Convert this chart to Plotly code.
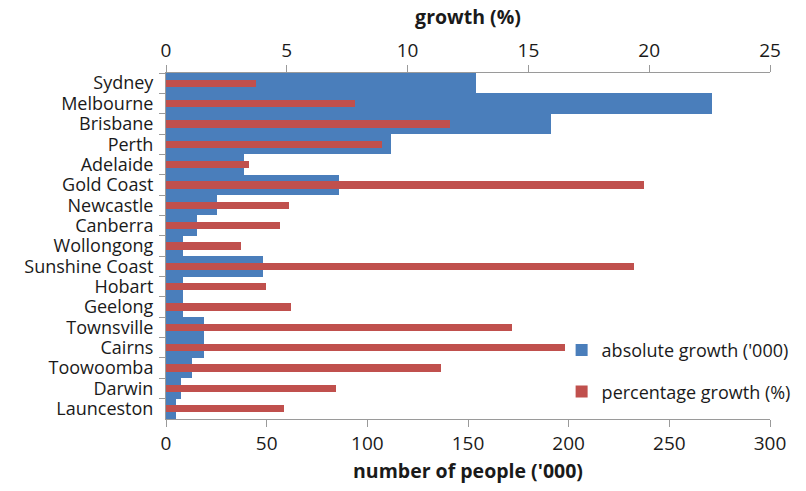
import plotly.graph_objects as go

cities = ["Sydney", "Melbourne", "Brisbane", "Perth", "Adelaide", "Gold Coast",
          "Newcastle", "Canberra", "Wollongong", "Sunshine Coast", "Hobart",
          "Geelong", "Townsville", "Cairns", "Toowoomba", "Darwin", "Launceston"]
absolute_growth = [154.0, 271.0, 191.0, 112.0, 38.5, 85.8, 25.4, 15.5, 8.5,
                   48.4, 8.5, 8.5, 19.1, 19.1, 12.7, 7.5, 5.2]
percentage_growth = [3.74, 7.81, 11.76, 8.96, 3.42, 19.8, 5.1, 4.71, 3.12,
                     19.35, 4.15, 5.18, 14.33, 16.52, 11.38, 7.02, 4.9]

FONT = "'Open Sans', Lato, sans-serif"
AXIS_COLOR = "#9a9a9a"
TEXT_COLOR = "#1a1a1a"

fig = go.Figure()
fig.add_trace(go.Bar(
    y=cities, x=absolute_growth, orientation="h", name="absolute growth ('000)",
    marker=dict(color="#4A7EBB", line=dict(width=0)), width=1.0,
    xaxis="x", yaxis="y", legendgroup="a"))
fig.add_trace(go.Bar(
    y=cities, x=percentage_growth, orientation="h", name="percentage growth (%)",
    marker=dict(color="#C0504D", line=dict(width=0)), width=0.36,
    xaxis="x2", yaxis="y", legendgroup="b"))

fig.update_layout(
    width=806, height=491,
    margin=dict(l=166, r=36, t=73, b=72, autoexpand=False),
    paper_bgcolor="white", plot_bgcolor="white",
    font=dict(family=FONT, color=TEXT_COLOR, size=19),
    barmode="overlay", bargap=0,
    showlegend=True,
    legend=dict(x=0.655, y=0.139, xanchor="left", yanchor="middle",
                bgcolor="rgba(0,0,0,0)", font=dict(size=18, color=TEXT_COLOR),
                traceorder="grouped", tracegroupgap=15, itemwidth=30),
    xaxis=dict(range=[0, 300], dtick=50, showgrid=False, zeroline=False,
               showline=True, linecolor=AXIS_COLOR, linewidth=1,
               ticks="outside", ticklen=7, tickcolor=AXIS_COLOR,
               tickfont=dict(size=19), side="bottom",
               title=dict(text="<b>number of people ('000)</b>", font=dict(size=19.5), standoff=9)),
    xaxis2=dict(range=[0, 25], dtick=5, showgrid=False, zeroline=False,
                overlaying="x", side="top", anchor="y",
                showline=True, linecolor=AXIS_COLOR, linewidth=1,
                ticks="outside", ticklen=7, tickcolor=AXIS_COLOR,
                tickfont=dict(size=19),
                title=dict(text="<b>growth (%)</b>", font=dict(size=19.5), standoff=7)),
    yaxis=dict(autorange="reversed", type="category", showgrid=False, zeroline=False,
               tickmode="linear", dtick=1, tick0=0,
               showline=True, linecolor=AXIS_COLOR, linewidth=1,
               ticks="outside", ticklen=6, tickcolor=AXIS_COLOR, tickson="boundaries",
               ticklabelstandoff=8,
               tickfont=dict(size=18, color=TEXT_COLOR)),
)

fig.write_html("out.html")
